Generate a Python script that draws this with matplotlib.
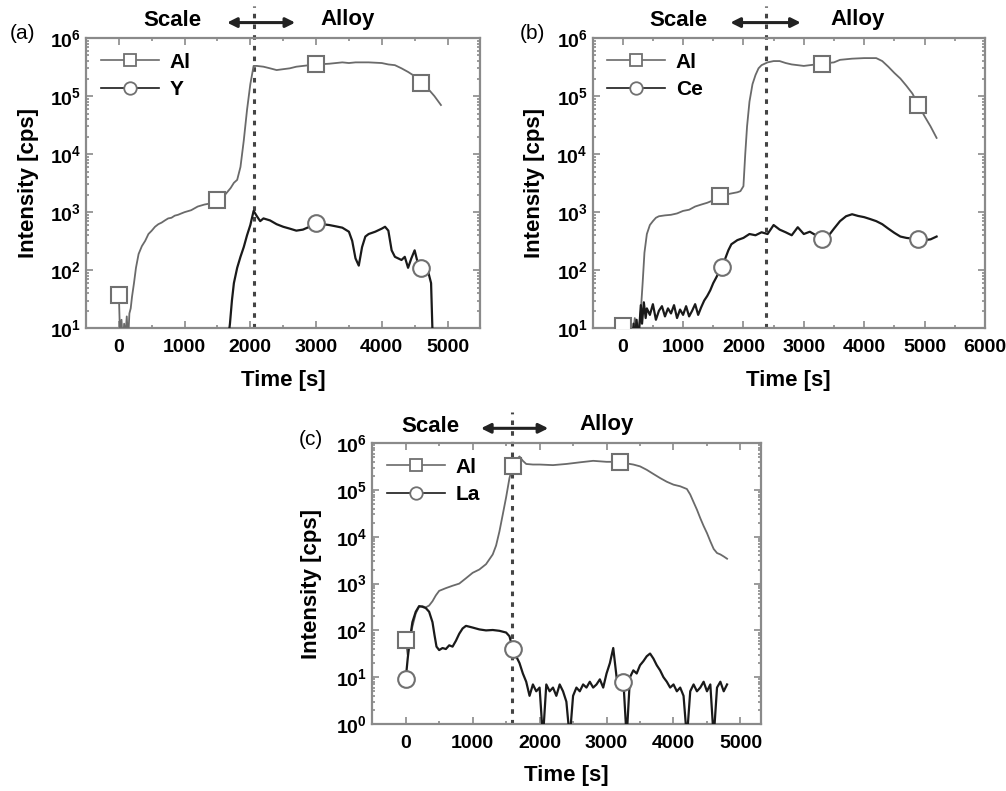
import math
import matplotlib
matplotlib.use('Agg')
import matplotlib.pyplot as plt
import matplotlib.ticker as mticker

plt.rcParams.update({
    'font.family': ['Liberation Sans', 'DejaVu Sans'],
    'font.weight': 'bold',
    'mathtext.fontset': 'custom',
    'mathtext.rm': 'Liberation Sans:bold',
    'mathtext.bf': 'Liberation Sans:bold',
    'axes.linewidth': 1.6,
    'axes.edgecolor': '#8a8a8a',
})

# ---------------------------------------------------------------- data (a) Al / Y
A_AL_T = [0, 20, 40, 60, 80, 100, 120, 140, 160, 180, 200, 230, 260, 300, 350, 400, 450, 500,
          550, 600, 650, 700, 750, 800, 850, 900, 950, 1000, 1100, 1200, 1300, 1400, 1500, 1600,
          1700, 1750, 1800, 1850, 1900, 1950, 2000, 2050, 2100, 2200, 2300, 2400, 2500, 2600,
          2700, 2800, 2900, 3000, 3200, 3400, 3500, 3600, 3800, 4000, 4100, 4200, 4300, 4400,
          4500, 4600, 4700, 4800, 4900]
A_AL_I = [38, 6, 14, 5, 12, 7, 16, 6, 18, 22, 35, 60, 110, 190, 260, 320, 420, 480,
          560, 620, 660, 720, 780, 800, 870, 900, 950, 1000, 1080, 1250, 1350, 1420, 1600, 1900,
          2600, 3200, 3600, 6000, 1.7e4, 5.8e4, 1.6e5, 3.3e5, 3.3e5, 3.2e5, 3.0e5, 2.8e5, 2.9e5, 3.0e5,
          3.2e5, 3.3e5, 3.4e5, 3.5e5, 3.6e5, 3.8e5, 3.7e5, 3.8e5, 3.8e5, 3.7e5, 3.5e5, 3.4e5, 3.0e5, 2.6e5,
          2.2e5, 1.7e5, 1.35e5, 1.0e5, 7.0e4]
A_Y_T = [1650, 1690, 1720, 1750, 1800, 1850, 1900, 1950, 2000, 2050, 2100, 2150, 2200, 2300,
         2400, 2500, 2600, 2700, 2800, 2900, 3000, 3100, 3200, 3300, 3400, 3500, 3550, 3600,
         3650, 3700, 3750, 3800, 3900, 4000, 4050, 4100, 4150, 4200, 4300, 4350, 4400, 4450,
         4500, 4550, 4600, 4650, 4700, 4750, 4770, 4800]
A_Y_I = [5, 12, 30, 60, 110, 170, 250, 400, 600, 1050, 850, 700, 780, 720,
         620, 560, 520, 480, 500, 560, 650, 620, 600, 570, 540, 460, 320, 160,
         120, 250, 380, 420, 460, 520, 560, 480, 220, 170, 150, 170, 110, 160,
         220, 130, 110, 140, 100, 60, 10, 5]
A_SQ_T, A_SQ_I = [0, 1500, 3000, 4600], [38, 1600, 3.5e5, 1.7e5]
A_CI_T, A_CI_I = [3000, 4600], [650, 110]

# ---------------------------------------------------------------- data (b) Al / Ce
B_AL_T = [0, 50, 100, 150, 200, 250, 300, 330, 360, 400, 450, 500, 550, 600, 700, 800, 900,
          1000, 1100, 1200, 1300, 1400, 1500, 1600, 1700, 1800, 1900, 1950, 2000, 2030, 2060,
          2100, 2150, 2200, 2250, 2300, 2400, 2500, 2600, 2700, 2800, 2900, 3000, 3100, 3300,
          3500, 3600, 3800, 4000, 4200, 4300, 4400, 4500, 4600, 4700, 4800, 4900, 5000, 5100, 5200]
B_AL_I = [11, 6, 12, 5, 15, 7, 20, 60, 200, 420, 600, 700, 800, 850, 880, 900, 950,
          1050, 1100, 1250, 1350, 1450, 1600, 1900, 2000, 2100, 2200, 2300, 2800, 1.0e4, 3.0e4,
          8.0e4, 1.6e5, 2.3e5, 3.0e5, 3.4e5, 3.8e5, 4.0e5, 4.0e5, 3.7e5, 3.5e5, 3.4e5, 3.3e5, 3.4e5, 3.6e5,
          3.8e5, 4.2e5, 4.4e5, 4.5e5, 4.5e5, 4.0e5, 3.2e5, 2.5e5, 2.0e5, 1.5e5, 1.1e5, 7.0e4, 4.5e4, 3.0e4, 1.9e4]
B_CE_T = [150, 180, 200, 230, 260, 300, 320, 350, 380, 400, 450, 500, 550, 600, 650, 700, 750,
          800, 850, 900, 950, 1000, 1050, 1100, 1150, 1200, 1250, 1300, 1350, 1400, 1450, 1500,
          1550, 1600, 1650, 1700, 1750, 1800, 1900, 2000, 2100, 2200, 2300, 2400, 2500, 2600,
          2700, 2800, 2900, 3000, 3100, 3200, 3300, 3400, 3500, 3600, 3700, 3800, 3900, 4000,
          4100, 4200, 4300, 4400, 4500, 4600, 4700, 4800, 4900, 5000, 5100, 5200]
B_CE_I = [5, 12, 6, 14, 6, 25, 12, 28, 15, 22, 17, 26, 14, 20, 24, 16, 22,
          18, 25, 15, 21, 17, 24, 16, 20, 26, 17, 23, 30, 36, 45, 60,
          75, 95, 115, 160, 220, 280, 330, 360, 420, 400, 450, 420, 600, 500,
          450, 400, 550, 420, 460, 400, 340, 380, 520, 700, 850, 920, 860, 820,
          760, 700, 620, 520, 440, 380, 360, 350, 340, 330, 340, 380]
B_SQ_T, B_SQ_I = [0, 1620, 3300, 4900], [11, 1900, 3.6e5, 7.0e4]
B_CI_T, B_CI_I = [1650, 3300, 4900], [115, 340, 340]

# ---------------------------------------------------------------- data (c) Al / La
C_AL_T = [0, 30, 60, 100, 150, 200, 250, 300, 350, 400, 450, 500, 600, 700, 800, 900, 1000,
          1100, 1200, 1300, 1350, 1400, 1450, 1500, 1550, 1600, 1650, 1700, 1750, 1800, 1900,
          2000, 2200, 2400, 2600, 2800, 3000, 3200, 3300, 3400, 3500, 3600, 3700, 3800, 3900,
          4000, 4100, 4200, 4250, 4300, 4350, 4400, 4450, 4500, 4550, 4600, 4650, 4700, 4750, 4800]
C_AL_I = [63, 30, 60, 120, 230, 320, 330, 310, 340, 420, 560, 700, 800, 900, 1000, 1300, 1700,
          2000, 2600, 4200, 6500, 1.3e4, 3.0e4, 7.0e4, 1.8e5, 3.3e5, 4.4e5, 5.2e5, 4.2e5, 3.6e5, 3.5e5,
          3.5e5, 3.4e5, 3.6e5, 3.9e5, 4.2e5, 4.0e5, 4.0e5, 3.7e5, 3.5e5, 3.2e5, 2.7e5, 2.2e5, 1.8e5, 1.5e5,
          1.3e5, 1.2e5, 1.05e5, 8.0e4, 5.5e4, 3.8e4, 2.5e4, 1.7e4, 1.2e4, 8.0e3, 5.5e3, 4.5e3, 4.2e3, 3.8e3, 3.4e3]
C_LA_T = [0, 30, 60, 100, 150, 200, 250, 300, 350, 400, 430, 460, 500, 550, 600, 650, 700, 750,
          800, 850, 900, 950, 1000, 1100, 1200, 1300, 1400, 1500, 1550, 1600, 1650, 1700, 1750,
          1800, 1850, 1900, 1950, 2000, 2050, 2100, 2150, 2200, 2250, 2300, 2350, 2400, 2450,
          2500, 2550, 2600, 2650, 2700, 2750, 2800, 2850, 2900, 2950, 3000, 3050, 3100, 3150,
          3200, 3250, 3300, 3350, 3400, 3450, 3500, 3550, 3600, 3650, 3700, 3750, 3800, 3850,
          3900, 3950, 4000, 4050, 4100, 4150, 4200, 4250, 4300, 4350, 4400, 4450, 4500, 4550,
          4600, 4650, 4700, 4750, 4800]
C_LA_I = [9, 25, 60, 150, 250, 330, 320, 300, 250, 150, 80, 45, 38, 42, 40, 48, 45, 60,
          85, 110, 125, 120, 115, 105, 100, 102, 98, 90, 75, 40, 28, 20, 12,
          8, 4, 7, 5, 6, 0.5, 7, 5, 6, 4, 7, 5, 3, 0.5,
          4, 6, 5, 7, 6, 8, 6, 7, 9, 6, 12, 20, 42, 10,
          8, 9, 0.5, 10, 14, 12, 18, 22, 28, 32, 25, 18, 14, 10,
          8, 6, 7, 5, 6, 4, 0.5, 5, 7, 5, 6, 8, 5, 7,
          0.5, 6, 8, 5, 7]
C_SQ_T, C_SQ_I = [0, 1600, 3200], [63, 3.3e5, 4.0e5]
C_CI_T, C_CI_I = [0, 1600, 3250], [9, 40, 8]

LIGHT = '#6a6a6a'
DARK = '#1a1a1a'
MK_EDGE = '#707070'

fig = plt.figure(figsize=(10.06, 7.91), dpi=100)


def panel(rect, tag, t1, i1, sq, t2, i2, ci, lab2, xlim, xmax_tick, ylim, vline,
          arrow, scale_x, alloy_x, tag_xy, ylab_x, time_y):
    ax = fig.add_axes(rect)
    ax.set_yscale('log')
    ax.plot(t1, i1, color=LIGHT, lw=1.3, zorder=3)
    ax.plot(t2, i2, color=DARK, lw=1.6, zorder=3)
    ax.plot(sq[0], sq[1], ls='none', marker='s', ms=11, mfc='white', mec=MK_EDGE, mew=1.5, zorder=4)
    ax.plot(ci[0], ci[1], ls='none', marker='o', ms=12, mfc='white', mec=MK_EDGE, mew=1.5, zorder=4)
    # legend proxies
    h1, = ax.plot([], [], color=LIGHT, lw=1.2, marker='s', ms=8, mfc='white', mec=MK_EDGE, mew=1.3)
    h2, = ax.plot([], [], color=DARK, lw=1.2, marker='o', ms=9, mfc='white', mec=MK_EDGE, mew=1.3)
    ax.legend([h1, h2], ['Al', lab2], loc='upper left', frameon=False,
              handlelength=2.8, handletextpad=0.5, labelspacing=0.4,
              borderaxespad=0.3, prop={'weight': 'bold', 'size': 15})

    ax.set_xlim(*xlim)
    ax.set_ylim(*ylim)
    ax.set_xticks(range(0, xmax_tick + 1, 1000))
    ax.xaxis.set_minor_locator(mticker.MultipleLocator(500))
    lo, hi = [int(round(math.log10(v))) for v in ylim]
    decades = list(range(lo, hi + 1))
    ax.set_yticks([10.0 ** d for d in decades])
    ax.set_yticklabels([r'$\mathbf{10^{%d}}$' % d for d in decades])
    ax.yaxis.set_minor_locator(mticker.LogLocator(base=10, subs=range(2, 10), numticks=20))
    ax.yaxis.set_minor_formatter(mticker.NullFormatter())
    ax.tick_params(which='both', direction='in', top=True, right=True, colors='#8a8a8a',
                   labelcolor='black', labelsize=14, width=1.2)
    ax.tick_params(which='major', length=5)
    ax.tick_params(which='minor', length=2.5)
    ax.tick_params(axis='x', pad=8)
    for lb in ax.get_xticklabels():
        lb.set_fontweight('bold')

    # scale / alloy boundary
    ax.axvline(vline, ymin=0, ymax=1.11, color='#444444', ls=(0, (1.5, 2.0)), lw=2.2,
               clip_on=False, zorder=2)
    trans = ax.get_xaxis_transform()
    ax.annotate('', xy=(arrow[1], 1.053), xytext=(arrow[0], 1.053), xycoords=trans,
                textcoords=trans, annotation_clip=False,
                arrowprops=dict(arrowstyle='<|-|>', color='#222222', lw=2.2,
                                mutation_scale=14, shrinkA=0, shrinkB=0))
    ax.text(scale_x, 1.06, 'Scale', transform=trans, ha='center', va='center',
            fontsize=16, fontweight='bold')
    ax.text(alloy_x, 1.065, 'Alloy', transform=trans, ha='center', va='center',
            fontsize=16, fontweight='bold')

    ax.set_ylabel('Intensity [cps]', fontsize=16, fontweight='bold')
    ax.yaxis.set_label_coords(ylab_x, 0.5)
    ax.set_xlabel('Time [s]', fontsize=16, fontweight='bold')
    ax.xaxis.set_label_coords(0.5, time_y)
    fig.text(tag_xy[0], tag_xy[1], tag, fontsize=15, fontweight='normal', ha='left', va='center')
    return ax


panel([0.0855, 0.585, 0.392, 0.367], '(a)', A_AL_T, A_AL_I, (A_SQ_T, A_SQ_I),
      A_Y_T, A_Y_I, (A_CI_T, A_CI_I), 'Y', (-500, 5500), 5000, (10, 1e6), 2050,
      (1646, 2683), 810, 3475, (0.010, 0.958), -0.12, -0.145)

panel([0.589, 0.585, 0.390, 0.367], '(b)', B_AL_T, B_AL_I, (B_SQ_T, B_SQ_I),
      B_CE_T, B_CE_I, (B_CI_T, B_CI_I), 'Ce', (-500, 6000), 6000, (10, 1e6), 2370,
      (1783, 2950), 920, 3900, (0.517, 0.958), -0.12, -0.145)

panel([0.370, 0.0847, 0.386, 0.355], '(c)', C_AL_T, C_AL_I, (C_SQ_T, C_SQ_I),
      C_LA_T, C_LA_I, (C_CI_T, C_CI_I), 'La', (-500, 5300), 5000, (1, 1e6), 1590,
      (1124, 2130), 375, 3000, (0.297, 0.444), -0.13, -0.145)

fig.savefig('out.png', dpi=100)
